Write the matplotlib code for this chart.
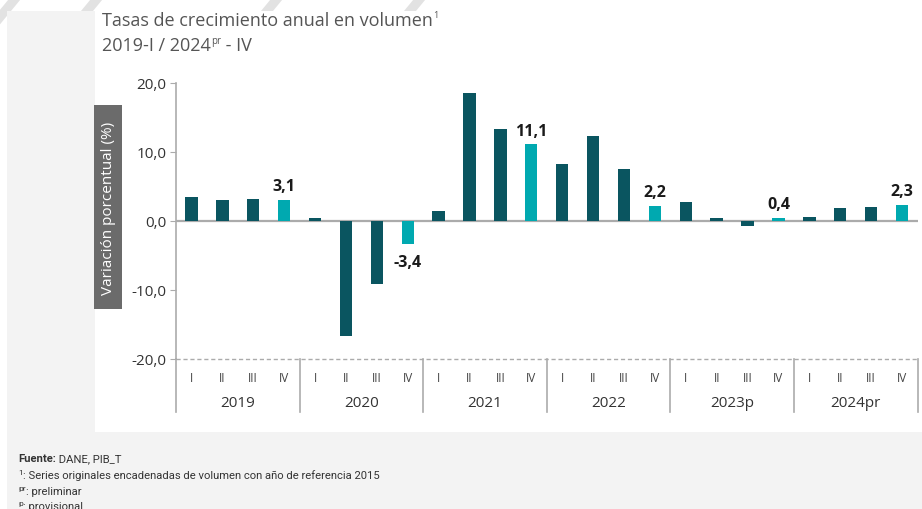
import matplotlib
matplotlib.use("Agg")
import matplotlib.pyplot as plt
from matplotlib.patches import Rectangle, Polygon
from matplotlib.transforms import blended_transform_factory

# ---------------- data ----------------
years = ["2019", "2020", "2021", "2022", "2023p", "2024pr"]
quarters = ["I", "II", "III", "IV"]
values = [3.5, 3.0, 3.2, 3.1,
          0.4, -16.7, -9.1, -3.4,
          1.4, 18.5, 13.3, 11.1,
          8.2, 12.3, 7.5, 2.2,
          2.7, 0.5, -0.7, 0.4,
          0.6, 1.9, 2.1, 2.3]
yticks = [-20, -10, 0, 10, 20]
ytick_labels = ["-20,0", "-10,0", "0,0", "10,0", "20,0"]

W, H = 922, 510
DARK = "#0a5560"
CYAN = "#00a9b0"
GRID = "#ababab"

plt.rcParams["font.family"] = ["Open Sans", "DejaVu Sans"]

fig = plt.figure(figsize=(W / 100, H / 100), dpi=100)
fig.patch.set_facecolor("white")


def fx(x):
    return x / W


def fy(y):
    return 1 - y / H


# background: stripes, gray panel, white panel
for x0 in [15, 97, 277, 420]:
    pts = [(fx(x0 + 10), fy(-5)), (fx(x0 - 12 + 10), fy(-5)),
           (fx(x0 - 12 - 60), fy(80)), (fx(x0 - 60), fy(80))]
    fig.patches.append(Polygon(pts, closed=True, transform=fig.transFigure,
                               facecolor="#e2e2e2", edgecolor="none", zorder=-10))
fig.patches.append(Rectangle((fx(7), 0), 1 - fx(7), fy(12), transform=fig.transFigure,
                             facecolor="#f3f3f3", edgecolor="none", zorder=-9))
fig.patches.append(Rectangle((fx(95), fy(433)), 1 - fx(95), fy(12) - fy(433),
                             transform=fig.transFigure, facecolor="white",
                             edgecolor="none", zorder=-8))

# axes
ax_left, ax_right = 176, 917.5
ax_top, ax_bot = 84, 360
ax = fig.add_axes([fx(ax_left), fy(ax_bot), fx(ax_right) - fx(ax_left), fy(ax_top) - fy(ax_bot)])
ax.set_facecolor("none")
n = len(values)
xs = list(range(n))
colors = [CYAN if i % 4 == 3 else DARK for i in xs]
ax.bar(xs, values, width=0.4, color=colors, zorder=3)
ax.set_xlim(-0.5, n - 0.5)
ax.set_ylim(-20, 20)

for s in ["top", "right", "bottom"]:
    ax.spines[s].set_visible(False)
ax.spines["left"].set_color(GRID)
ax.spines["left"].set_linewidth(1.2)
ax.axhline(0, color=GRID, lw=1.6, zorder=2)
ax.axhline(-20, color=GRID, lw=1.0, ls=(0, (3, 2)), zorder=2, clip_on=False)

ax.set_yticks(yticks)
ax.set_yticklabels(ytick_labels, fontsize=11, color="#333333")
ax.tick_params(axis="y", length=4, width=0.8, color=GRID, pad=3)
ax.set_xticks([])

# value labels on Q4 bars
for i, v in enumerate(values):
    if i % 4 == 3:
        lab = f"{v:.1f}".replace(".", ",")
        off = 9.9 if v >= 0 else -12.3
        ax.annotate(lab, (i, v), xytext=(0, off), textcoords="offset points",
                    ha="center", va="center", fontsize=11.5, fontweight="bold",
                    color="#1a1a1a")

# category labels
tr = blended_transform_factory(ax.transData, fig.transFigure)
for i in xs:
    ax.text(i, fy(379), quarters[i % 4], transform=tr, ha="center", va="center",
            fontsize=8.5, color="#444444", clip_on=False)
for k, yr in enumerate(years):
    ax.text(4 * k + 1.5, fy(404), yr, transform=tr, ha="center", va="center",
            fontsize=11, color="#333333", clip_on=False)
for k in range(len(years) + 1):
    ax.plot([4 * k - 0.5, 4 * k - 0.5], [fy(360), fy(413)], transform=tr,
            color=GRID, lw=1.2, clip_on=False)

# y-label box
fig.patches.append(Rectangle((fx(94), fy(310)), fx(122) - fx(94), fy(106) - fy(310),
                             transform=fig.transFigure, facecolor="#6b6b6b",
                             edgecolor="none", zorder=1))
fig.text(fx(108.5), fy(208), "Variación porcentual (%)", rotation=90, ha="center",
         va="center", fontsize=11, color="white", zorder=2)

# title
fig.canvas.draw()
renderer = fig.canvas.get_renderer()


def run_texts(x, y, parts):
    """parts: list of (text, fontsize, dy, kwargs)"""
    cx = x
    for txt, fs, dy, kw in parts:
        t = fig.text(fx(cx), fy(y + dy), txt, fontsize=fs, ha="left", va="baseline", **kw)
        bb = t.get_window_extent(renderer=renderer)
        cx += bb.width
    return cx


tcol = "#555555"
run_texts(102, 26, [("Tasas de crecimiento anual en volumen", 13, 0, dict(color=tcol)),
                    ("1", 6.5, -8, dict(color=tcol))])
run_texts(102, 51, [("2019-I / 2024", 13, 0, dict(color=tcol)),
                    ("pr", 7, -7, dict(color=tcol)),
                    (" - IV", 13, 0, dict(color=tcol))])

# footnotes
fcol = "#333333"
ff = dict(family=["Roboto", "DejaVu Sans"], color=fcol)
run_texts(18, 462, [("Fuente:", 8.1, 0, dict(ff, fontweight="bold")),
                    (" DANE, PIB_T", 8.1, 0, ff)])
run_texts(18, 479, [("1", 6, -4, ff),
                    (": Series originales encadenadas de volumen con año de referencia 2015", 8.1, 0, ff)])
run_texts(18, 495, [("pr", 6, -4, ff), (": preliminar", 8.1, 0, ff)])
run_texts(18, 510, [("p", 6, -4, ff), (": provisional", 8.1, 0, ff)])

fig.savefig("out.png", dpi=100, facecolor=fig.get_facecolor())
